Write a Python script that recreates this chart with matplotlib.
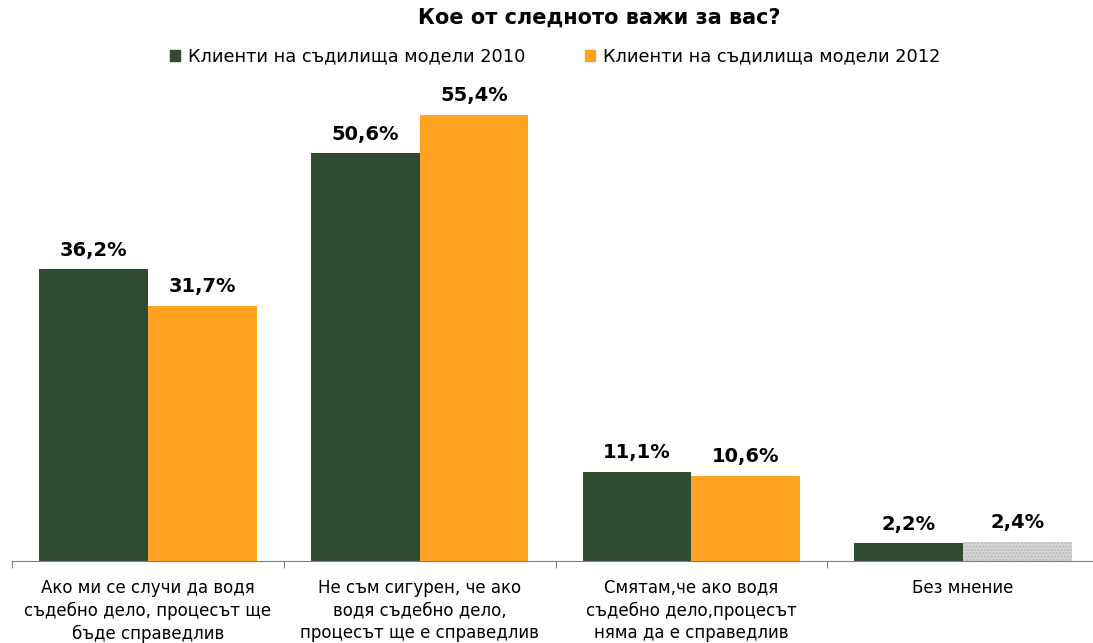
import matplotlib.pyplot as plt
import matplotlib.patches as patches
import numpy as np

categories = [
    "Ако ми се случи да водя\nсъдебно дело, процесът ще\nбъде справедлив",
    "Не съм сигурен, че ако\nводя съдебно дело,\nпроцесът ще е справедлив",
    "Смятам,че ако водя\nсъдебно дело,процесът\nняма да е справедлив",
    "Без мнение",
]
series_names = ["Клиенти на съдилища модели 2010", "Клиенти на съдилища модели 2012"]
values_2010 = [36.2, 50.6, 11.1, 2.2]
values_2012 = [31.7, 55.4, 10.6, 2.4]

green = '#314b32'
orange = '#ffa321'

fig = plt.figure(figsize=(10.93, 6.43), dpi=100)
ax = fig.add_axes([0.011, 0.1275, 0.9945, 0.7265])

x = np.arange(len(categories))
w = 0.4
bars1 = ax.bar(x - w / 2, values_2010, w, color=green, label=series_names[0])
bars2 = ax.bar(x + w / 2, values_2012, w, color=orange, label=series_names[1])
# the "no opinion" bar for 2012 is drawn grey with a dotted pattern
bars2[-1].set_facecolor('#d6d6d6')
bars2[-1].set_edgecolor('#b8b8b8')
bars2[-1].set_hatch('.....')
bars2[-1].set_linewidth(0)

for bars in (bars1, bars2):
    for b in bars:
        v = b.get_height()
        ax.text(b.get_x() + b.get_width() / 2, v + 1.2, f"{v:.1f}%".replace('.', ','),
                ha='center', va='bottom', fontsize=14, fontweight='bold')

ax.set_xlim(-0.5, len(categories) - 0.5)
ax.set_ylim(0, 58)
ax.set_yticks([])
for s in ['top', 'right', 'left']:
    ax.spines[s].set_visible(False)
ax.spines['bottom'].set_color('#808080')

ax.set_xticks(np.arange(len(categories) + 1) - 0.5)
ax.set_xticklabels([])
ax.tick_params(axis='x', length=5, color='#808080')
for i, c in enumerate(categories):
    ax.text(i, -2.2, c, ha='center', va='top', fontsize=12, linespacing=1.33)

fig.text(0.548, 0.972, "Кое от следното важи за вас?", ha='center', va='center',
         fontsize=15, fontweight='bold')

handles = [patches.Patch(color=green), patches.Patch(color=orange)]
fig.legend(handles, series_names, loc='center', bbox_to_anchor=(0.508, 0.912), ncol=2,
           frameon=False, fontsize=12.8, handlelength=0.55, handleheight=0.55,
           handletextpad=0.45, columnspacing=3.4)

fig.savefig('out.png', dpi=100)
